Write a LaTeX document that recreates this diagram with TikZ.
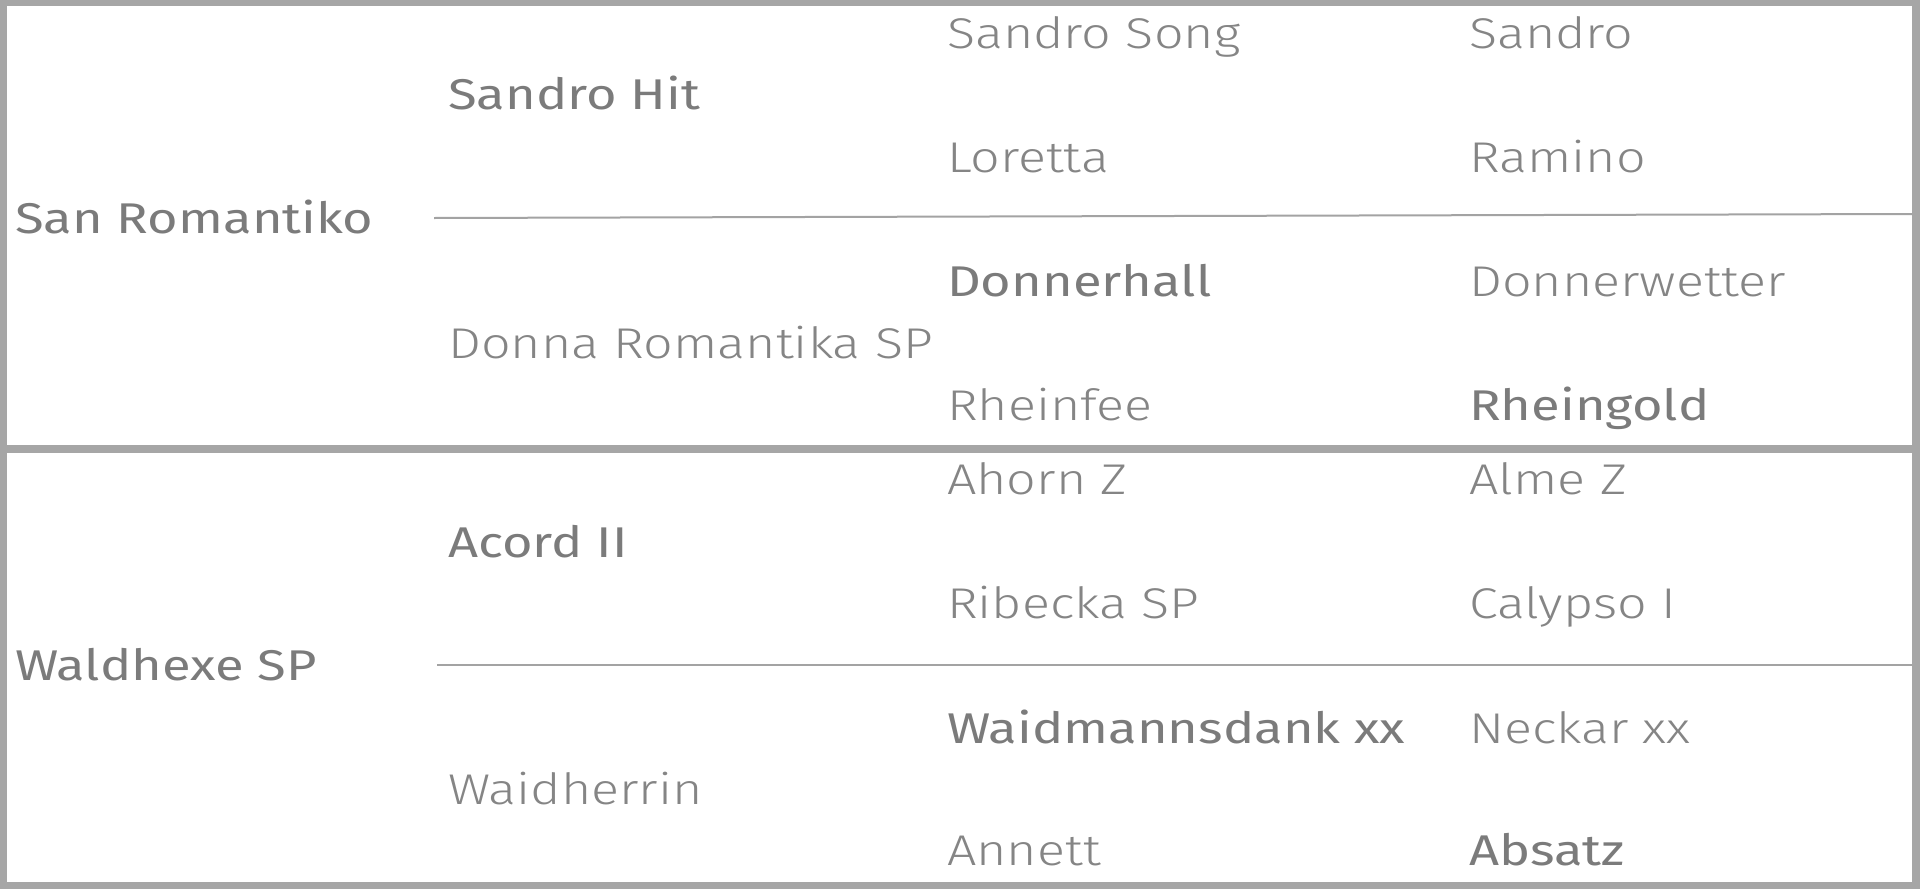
\documentclass[tikz,border=0pt]{standalone}
\usepackage{fontspec}
\newfontfamily\lightface{Fira Sans Light}[FakeStretch=1.21]
\newfontfamily\boldface{Fira Sans}[FakeStretch=1.22]
\definecolor{frame}{HTML}{A6A6A6}
\definecolor{rule}{HTML}{A3A3A3}
\definecolor{txt}{HTML}{858585}
\definecolor{txtb}{HTML}{7B7B7B}
\tikzset{
  lt/.style={anchor=base west, inner sep=0pt, text=txt, font=\lightface\fontsize{43}{50}\selectfont},
  bd/.style={anchor=base west, inner sep=0pt, text=txtb, font=\boldface\fontsize{43}{50}\selectfont},
  divider/.style={draw=rule, line width=2pt},
}
\begin{document}
\begin{tikzpicture}[x=1pt,y=-1pt]
\useasboundingbox (0,0) rectangle (1920,889);
\fill[frame] (0,0) rectangle (1920,889);
\fill[white] (7,6) rectangle (1912,445);
\fill[white] (7,453) rectangle (1912,882);
% dividers
\coordinate (d1a) at (434,218);
\coordinate (d1b) at (1912,214);
\coordinate (d2a) at (437,665);
\coordinate (d2b) at (1912,665);
\draw[divider] (d1a) -- (d1b);
\draw[divider] (d2a) -- (d2b);
% top table
\node[bd] (sr) at (15,233) {San Romantiko};
\node[bd] (sh) at (448,109) {Sandro Hit};
\node[lt] (drs) at (448,358) {Donna Romantika SP};
\node[lt] (ss) at (947,48) {Sandro Song};
\node[lt] (lo) at (947,172) {Loretta};
\node[bd] (dh) at (947,296) {Donnerhall};
\node[lt] (rf) at (947,420) {Rheinfee};
\node[lt] (sa) at (1469,48) {Sandro};
\node[lt] (ra) at (1469,172) {Ramino};
\node[lt] (dw) at (1469,296) {Donnerwetter};
\node[bd] (rg) at (1469,420) {Rheingold};
% bottom table
\node[bd] (wh) at (15,680) {Waldhexe SP};
\node[bd] (ac) at (448,557) {Acord II};
\node[lt] (wa) at (448,804) {Waidherrin};
\node[lt] (ah) at (947,494) {Ahorn Z};
\node[lt] (ri) at (947,618) {Ribecka SP};
\node[bd] (wd) at (947,743) {Waidmannsdank xx};
\node[lt] (an) at (947,865) {Annett};
\node[lt] (al) at (1469,494) {Alme Z};
\node[lt] (ca) at (1469,618) {Calypso I};
\node[lt] (ne) at (1469,743) {Neckar xx};
\node[bd] (ab) at (1469,865) {Absatz};
\end{tikzpicture}
\end{document}
